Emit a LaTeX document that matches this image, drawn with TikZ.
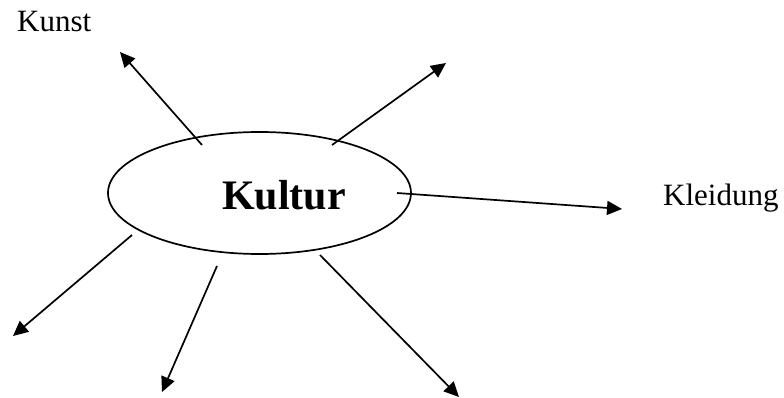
\documentclass[tikz,border=0pt]{standalone}
\usepackage{fontspec}
\setmainfont{Liberation Serif}
\usetikzlibrary{arrows.meta,shapes.geometric}
\begin{document}
\begin{tikzpicture}[x=1pt,y=-1pt,
  conn/.style={line width=1.7pt,-{Triangle[length=15pt,width=14pt]}},
  lbl/.style={anchor=base west,inner sep=0pt,font=\fontsize{31}{36}\selectfont}]
\useasboundingbox (0,0) rectangle (784,398);
\node[draw,line width=1.7pt,ellipse,minimum width=303pt,minimum height=122pt,inner sep=0pt] (k) at (259.5,193) {};
\node[anchor=base west,inner sep=0pt,font=\fontsize{42}{48}\selectfont\bfseries] (kt) at (222,210) {Kultur};
\node[lbl] (kunst) at (17,32) {Kunst};
\node[lbl] (kleid) at (663,205) {Kleidung};
\coordinate (s1) at (202,145); \coordinate (e1) at (120,52);
\coordinate (s2) at (332,145); \coordinate (e2) at (446,63);
\coordinate (s3) at (397,193); \coordinate (e3) at (622,209);
\coordinate (s4) at (132,235); \coordinate (e4) at (13,336);
\coordinate (s5) at (217,266); \coordinate (e5) at (162,392);
\coordinate (s6) at (320,255); \coordinate (e6) at (459,397);
\draw[conn] (s1) -- (e1);
\draw[conn] (s2) -- (e2);
\draw[conn] (s3) -- (e3);
\draw[conn] (s4) -- (e4);
\draw[conn] (s5) -- (e5);
\draw[conn] (s6) -- (e6);
\end{tikzpicture}
\end{document}
